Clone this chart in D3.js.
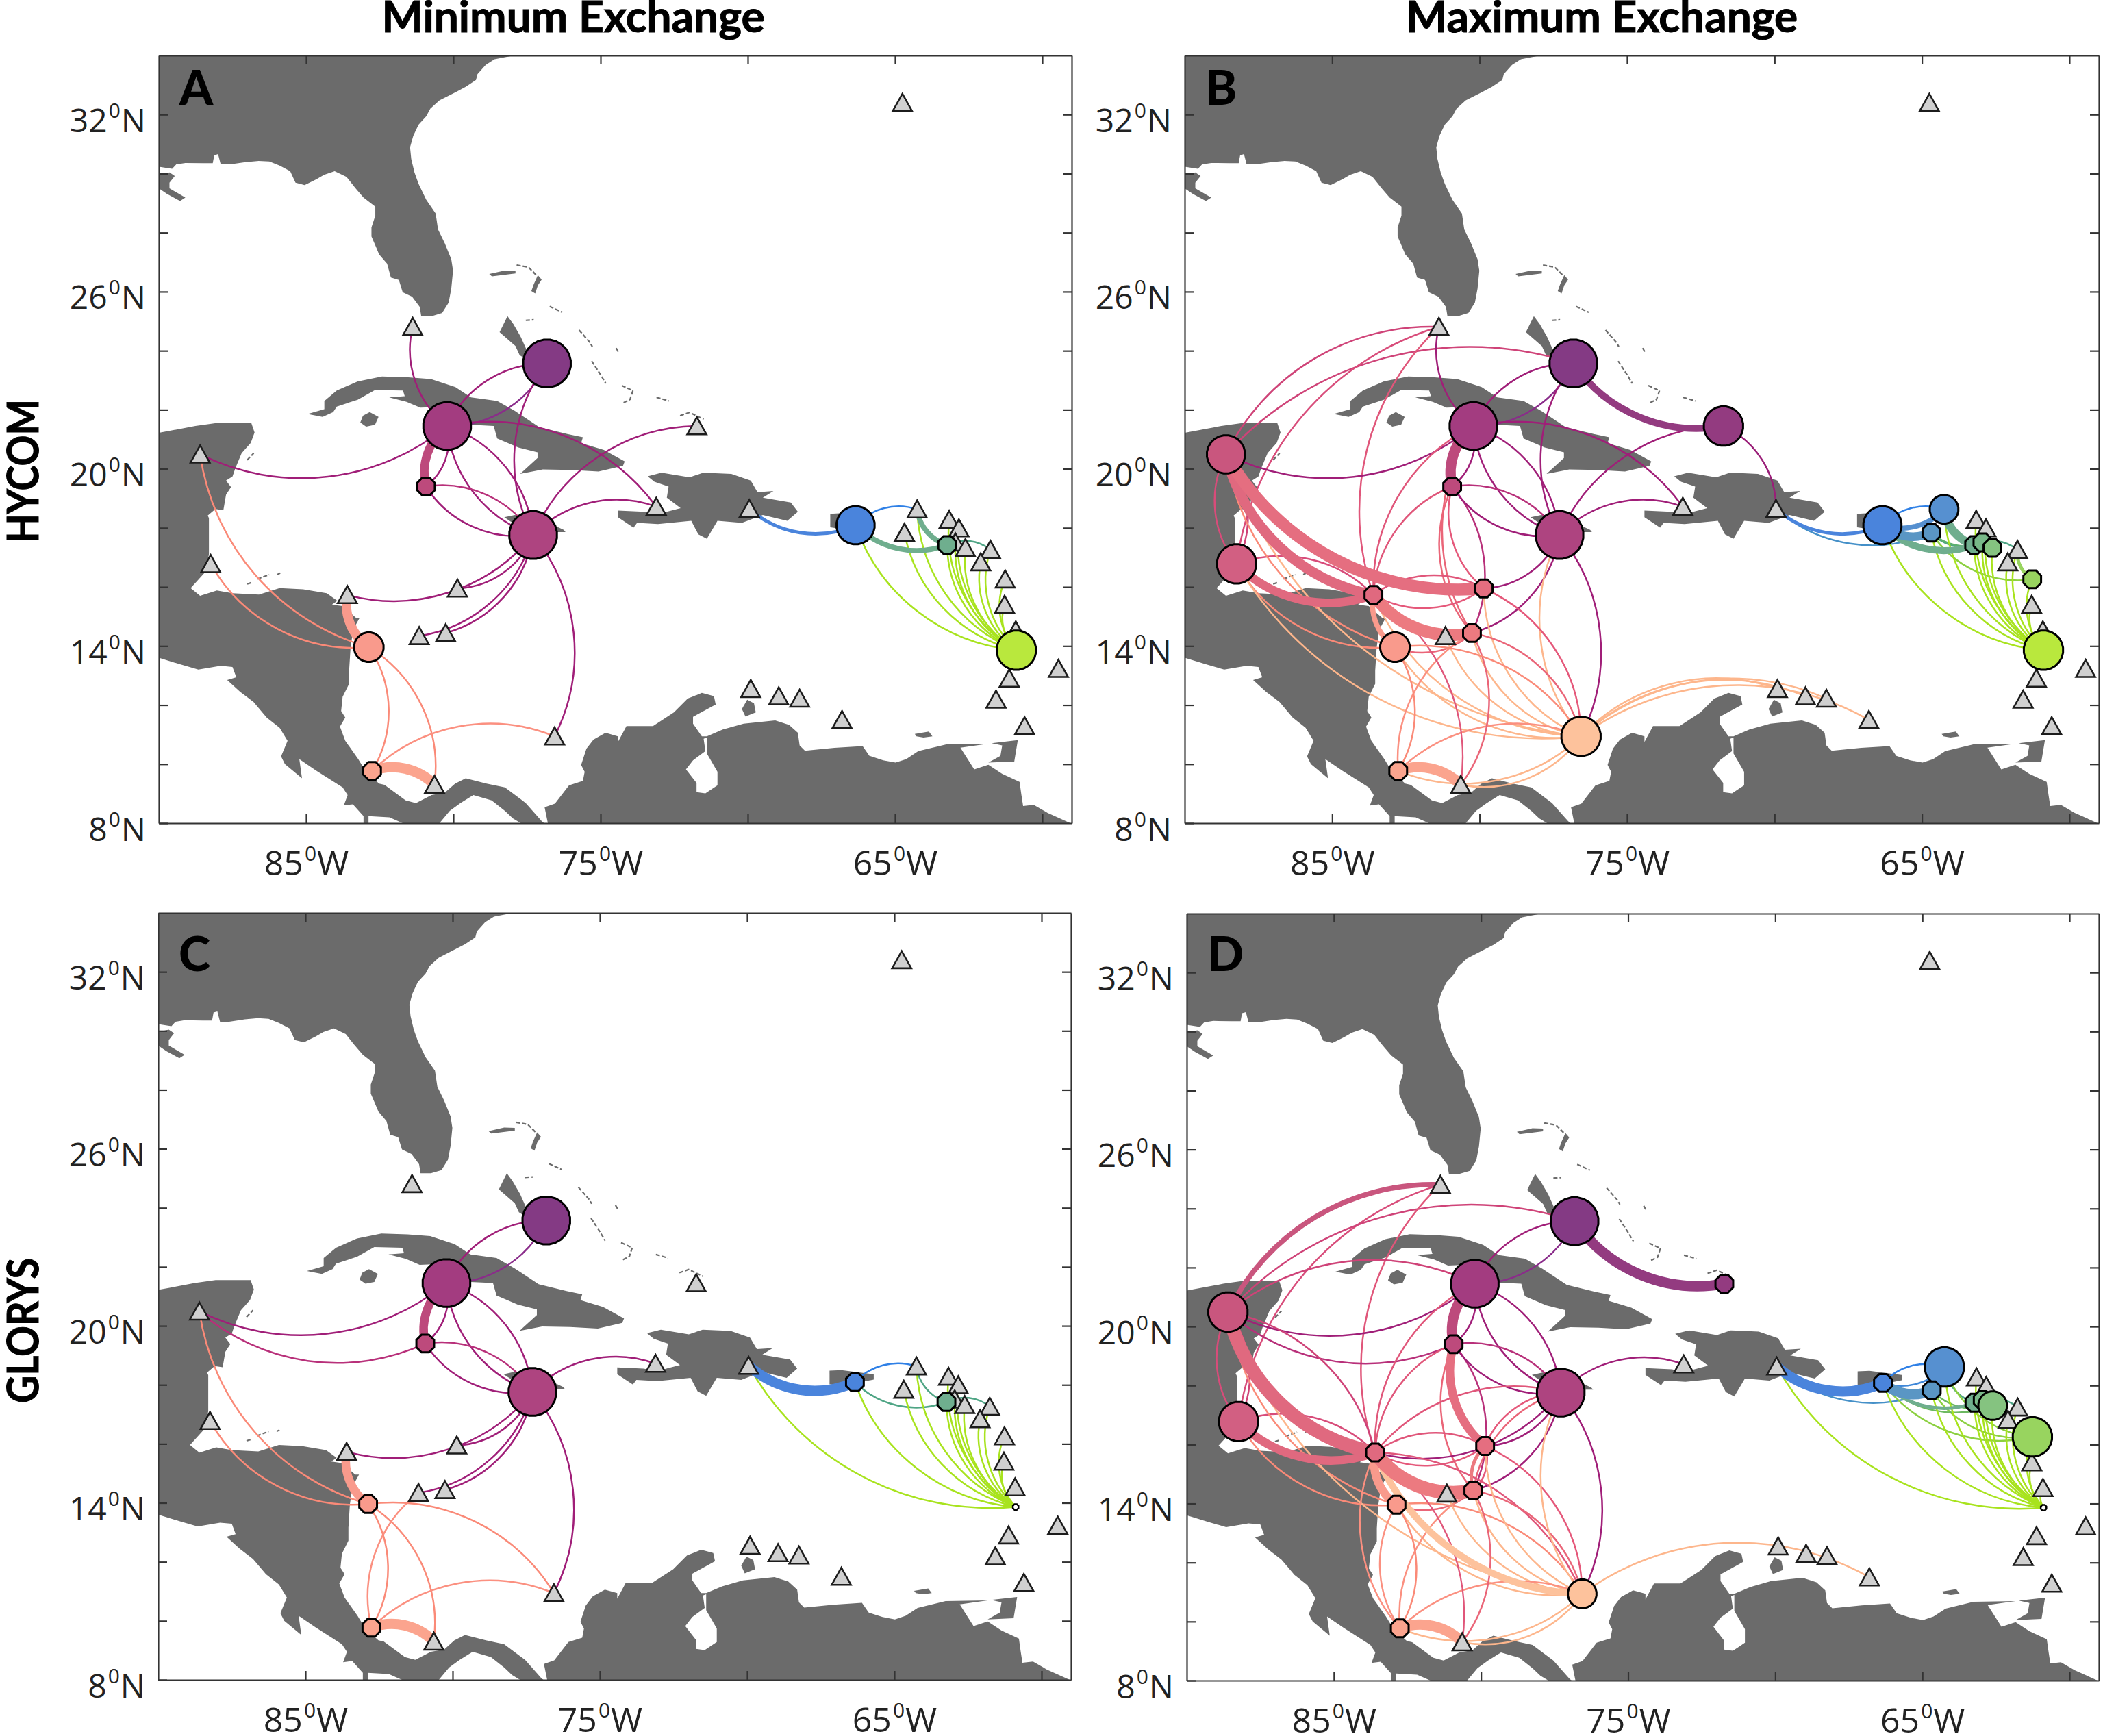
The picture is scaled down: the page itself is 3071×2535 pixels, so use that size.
<!DOCTYPE html>
<html>
<head>
<meta charset="utf-8">
<script src="https://cdn.jsdelivr.net/npm/d3@7"></script>
<style>
  html, body { margin: 0; background: #fff; }
  svg { display: block; }
</style>
</head>
<body>
<svg id="chart" width="3071" height="2535"></svg>
<script>
/* Land outlines, [lon, lat] */
const northAmerica = [[-90,34],[-77.94,34],[-78.6,33.87],[-78.9,33.68],[-79.18,33.37],[-79.23,33.17],[-79.58,32.94],[-79.94,32.75],[-80.47,32.48],[-80.78,32.2],[-80.92,31.94],[-81.18,31.66],[-81.36,31.28],[-81.47,30.89],[-81.43,30.5],[-81.32,30.04],[-81.18,29.65],[-80.92,29.11],[-80.6,28.65],[-80.52,28.11],[-80.29,27.64],[-80.07,27.1],[-80.01,26.71],[-80.07,26.1],[-80.16,25.63],[-80.38,25.28],[-80.74,25.17],[-81.09,25.17],[-81.14,25.48],[-81.4,25.83],[-81.72,25.98],[-81.85,26.4],[-82.12,26.48],[-82.25,26.95],[-82.52,27.26],[-82.65,27.57],[-82.78,27.87],[-82.78,28.18],[-82.65,28.57],[-82.65,28.88],[-83.05,29.19],[-83.32,29.5],[-83.63,29.89],[-84.03,30.08],[-84.39,29.96],[-84.65,29.81],[-85.05,29.61],[-85.36,29.69],[-85.54,30.08],[-85.9,30.27],[-86.25,30.41],[-86.61,30.43],[-87.06,30.39],[-87.59,30.31],[-87.9,30.31],[-87.99,30.66],[-88.12,30.62],[-88.17,30.35],[-88.48,30.35],[-89.1,30.36],[-89.41,30.31],[-89.55,30.16],[-90,30.23]];
const missDelta = [[-90,29.96],[-89.64,30.04],[-89.46,29.92],[-89.64,29.69],[-89.64,29.5],[-89.1,29.19],[-89.28,29.07],[-89.72,29.31],[-90,29.5]];
const centralAmerica = [[-90,21.22],[-88.76,21.45],[-88.05,21.55],[-86.86,21.55],[-86.75,21.23],[-86.88,20.88],[-87.19,20.53],[-87.41,20],[-87.5,19.74],[-87.72,19.6],[-87.55,19.38],[-87.72,19.12],[-87.81,18.6],[-88.08,18.64],[-88.34,18.42],[-88.3,18.33],[-88.3,17.72],[-88.3,17.1],[-88.44,16.49],[-88.92,15.96],[-88.6,15.7],[-88.03,15.88],[-87.5,15.79],[-86.6,15.74],[-85.9,15.96],[-85.1,15.92],[-84.3,15.79],[-83.94,15.53],[-84.12,15.4],[-83.76,15.35],[-83.31,14.96],[-83.18,14.96],[-83.4,14.56],[-83.49,13.95],[-83.54,13.16],[-83.54,12.72],[-83.76,12.28],[-83.81,11.8],[-83.67,11.58],[-83.85,11.27],[-83.67,10.79],[-83.23,10.17],[-82.96,9.73],[-82.52,9.34],[-82.34,9.3],[-81.62,8.77],[-81.27,8.68],[-80.74,8.95],[-80.29,9.03],[-79.94,9.34],[-79.58,9.52],[-78.87,9.34],[-78.25,9.21],[-77.54,8.68],[-77,8.07],[-76.92,8],[-77.71,8],[-77.98,8.16],[-78.25,8.42],[-78.7,8.77],[-79.32,8.95],[-79.76,8.68],[-80.12,8.42],[-80.47,8],[-81.72,8],[-82.17,8.2],[-82.88,8.24],[-82.88,8],[-83.05,8],[-83.05,8.24],[-83.41,8.64],[-83.72,8.6],[-83.59,8.95],[-83.76,9.21],[-84.66,9.78],[-85.23,10.17],[-85.14,9.52],[-85.72,10],[-85.85,10.26],[-85.63,10.79],[-85.9,11.23],[-86.34,11.58],[-86.78,12.1],[-87.24,12.45],[-87.68,12.85],[-87.37,12.94],[-87.5,13.29],[-87.9,13.33],[-88.66,13.2],[-89.28,13.38],[-90,13.6]];
const southAmerica = [[-76.79,8],[-76.9,8.54],[-76.55,8.66],[-76.07,9.28],[-75.6,9.43],[-75.54,9.74],[-75.66,9.97],[-75.48,10.52],[-75.24,10.83],[-74.83,11.06],[-74.41,10.94],[-74.41,10.75],[-74.12,11.29],[-73.22,11.29],[-72.51,11.75],[-72.04,12.22],[-71.56,12.41],[-71.15,12.3],[-71.09,12.02],[-71.86,11.6],[-71.86,11.37],[-71.56,10.94],[-71.39,10.94],[-70.85,11.17],[-70.14,11.37],[-69.07,11.48],[-68.6,11.33],[-68.3,11.06],[-68.24,10.63],[-68.06,10.45],[-67.06,10.55],[-66.1,10.61],[-65.87,10.28],[-65.4,10.13],[-64.98,10.05],[-64.62,10.17],[-64.21,10.44],[-63.26,10.67],[-61.83,10.69],[-62.78,10.56],[-62.31,9.82],[-61.83,9.98],[-61.36,9.67],[-60.77,9.4],[-60.71,8.97],[-60.65,8.58],[-60.29,8.62],[-59.82,8.35],[-59,7.98]];
const lakeMaracaibo = [[-71.5,10.86],[-71.44,10.44],[-71.86,10.13],[-72.1,9.82],[-71.74,9.36],[-71.74,9.05],[-71.44,9.01],[-71.03,9.28],[-71.03,9.74],[-71.39,10.36],[-71.39,10.9]];
const cuba = [[-84.95,21.86],[-84.38,22.02],[-84.38,22.3],[-83.96,22.65],[-83.25,22.96],[-82.42,23.13],[-81.53,23.1],[-80.76,23.04],[-79.93,22.77],[-79.4,22.42],[-78.51,22.3],[-77.91,21.96],[-77.08,21.41],[-76.13,21.18],[-75.6,21.07],[-75.66,20.87],[-74.89,20.64],[-74.18,20.25],[-74.24,20.1],[-75.07,19.91],[-76.01,19.96],[-76.96,19.98],[-77.73,19.83],[-77.14,20.37],[-77.14,20.56],[-77.79,20.72],[-78.51,21.03],[-78.63,21.45],[-79.4,21.49],[-80.29,22.1],[-81.12,22.07],[-81.59,22.27],[-82.18,22.42],[-81.65,22.46],[-81.71,22.65],[-82.66,22.67],[-83.25,22.34],[-83.96,22.11],[-84.08,21.92],[-84.44,21.76]];
const isleOfYouth = [[-83.07,21.8],[-82.84,21.92],[-82.54,21.76],[-82.66,21.49],[-82.96,21.43],[-83.16,21.57]];
const jamaica = [[-78.27,18.36],[-77.91,18.44],[-77.08,18.32],[-76.25,17.93],[-76.19,17.86],[-76.61,17.86],[-78.03,18.2]];
const hispaniola = [[-73.4,19.75],[-72.93,19.87],[-71.98,19.71],[-71.51,19.87],[-70.56,19.83],[-69.9,19.6],[-69.67,19.21],[-69.13,19.25],[-69.49,19.02],[-68.54,18.86],[-68.3,18.55],[-68.66,18.24],[-69.49,18.44],[-70.2,18.17],[-71.03,18.24],[-71.39,17.63],[-71.68,17.78],[-71.92,18.24],[-73.05,18.13],[-73.76,18.17],[-73.88,18.01],[-74.41,18.36],[-74.41,18.59],[-73.52,18.55],[-73.05,18.47],[-72.28,18.67],[-72.75,19.02],[-72.69,19.4],[-73.17,19.56]];
const puertoRico = [[-67.2,18.48],[-66.8,18.5],[-65.7,18.36],[-65.7,18.18],[-66.8,17.96],[-67.2,18.02]];
const grandBahama = [[-78.78,26.6],[-78.25,26.72],[-77.89,26.71],[-77.89,26.62],[-78.69,26.52]];
const abaco = [[-77.13,26.56],[-77,26.41],[-77.13,26.21],[-77.22,25.94],[-77.35,26.02],[-77.27,26.25]];
const andros = [[-78.16,25.17],[-77.96,24.9],[-77.71,24.47],[-77.5,24],[-77.55,23.72],[-77.75,23.85],[-77.89,24.16],[-78.43,24.63]];
const trinidad = [[-61.72,10.71],[-60.83,10.81],[-60.95,10.09],[-61.83,10.05],[-61.42,10.28],[-61.36,10.63]];
const paraguana = [[-70.2,11.87],[-70.02,12.18],[-69.79,12.06],[-69.73,11.75],[-70.08,11.61]];
const margarita = [[-64.33,11.02],[-63.85,11.1],[-63.73,10.94],[-64.03,10.9],[-64.27,10.94]];
const landPolygons = [northAmerica, missDelta, centralAmerica, southAmerica, cuba, isleOfYouth, jamaica, hispaniola, puertoRico, grandBahama, abaco, andros, trinidad, paraguana, margarita];

/* small cays, drawn as thin broken lines */
const cays = [
  [[-75.73,24.7],[-75.36,24.28],[-75.28,24.14]],
  [[-75.3,23.65],[-75,23.19],[-74.82,22.89]],
  [[-74.47,24.09],[-74.4,23.97]],
  [[-74.28,22.82],[-73.9,22.65],[-74,22.35],[-74.24,22.23]],
  [[-73.1,22.42],[-72.68,22.3]],
  [[-72.3,21.8],[-71.98,21.91],[-71.5,21.68]],
  [[-77.85,26.9],[-77.45,26.83],[-77.18,26.56]],
  [[-76.73,25.5],[-76.3,25.3]],
  [[-77.54,25.03],[-77.27,25.05]],
  [[-86.65,16.27],[-86.25,16.42]],
  [[-87,16.1],[-86.85,16.15]],
  [[-85.98,16.42],[-85.88,16.47]],
  [[-87,20.3],[-86.78,20.53]]
];

/* Release sites */
const siteIds = ["BER","EXU","TOR","CUB","CAY","JAM","YUC","BEL","TUR","HAI","DOM","PUR","V1","V2","G1","A1","A2","G2","G3","A3","A4","G4","A5","A6","LIM","BAR","A7","A8","TOB","K1","K2","K3","K4","PEA","PAN","SAL2","SAL1","HON","ROS","SER","PED"];
const siteLon = [-64.75,-76.82,-81.38,-80.21,-80.93,-77.29,-88.6,-88.24,-71.73,-73.11,-69.95,-66.34,-64.25,-64.68,-63.23,-63.16,-62.83,-62.95,-62.61,-61.76,-62.09,-61.26,-61.28,-60.9,-60.88,-59.45,-61.12,-61.57,-60.6,-66.8,-68.24,-68.95,-69.9,-76.56,-80.64,-82.76,-82.87,-83.6,-79.86,-81.16,-80.26];
const siteLat = [32.4,23.57,24.81,21.45,19.4,17.76,20.49,16.78,21.45,18.72,18.65,18.09,18.63,17.84,17.42,18.28,17.99,17.51,17.32,17.26,16.84,16.26,15.4,14.53,13.86,13.23,12.9,12.19,11.29,11.5,12.22,12.3,12.55,10.94,9.3,9.77,13.96,15.73,15.95,14.34,14.44];

/* Node strength per panel; a site that is not listed is drawn as a triangle */
const strengthA = {EXU:6.25,CUB:6.25,CAY:1,JAM:6.25,PUR:4,G1:1,LIM:4.25,SAL1:2.4,SAL2:1};
const strengthB = {EXU:6.25,TUR:4.25,CUB:6.25,CAY:1,JAM:6.25,YUC:4,BEL:4.25,HON:1,ROS:1,PED:1,SAL1:2.4,SAL2:1,PEA:4.25,PUR:4,V1:2.25,V2:1,G1:1,G2:1,G3:1,G4:1,LIM:4.25};
const strengthC = {EXU:6.25,CUB:6.25,CAY:1,JAM:6.25,PUR:1,G1:1,LIM:0.1,SAL1:1,SAL2:1};
const strengthD = {EXU:6.25,TUR:1,CUB:6.25,CAY:1,JAM:6.25,YUC:4.25,BEL:4.25,HON:1,ROS:1,PED:1,SAL1:1,SAL2:1,PEA:2.25,PUR:1,V1:4.25,V2:1,G1:1,G2:1,G3:2.25,G4:4.25,LIM:0.1};

/* Connections: source, target, strength. Arc always bulges to the left of source -> target */
const edgesA = [
  ["CUB","TOR",1],["EXU","CUB",1],["CUB","EXU",1],["CUB","YUC",1],["CAY","CUB",5],["CUB","CAY",1],["CUB","JAM",1],["JAM","CUB",1],["CAY","JAM",1],["JAM","CAY",1],["CUB","HAI",1],["JAM","TUR",1],["JAM","HAI",1],["JAM","EXU",1],["JAM","HON",1],["JAM","ROS",1],["JAM","PED",1],["JAM","SER",1],["JAM","PEA",1],
  ["SAL1","YUC",1],["SAL1","BEL",1],["SAL1","HON",5.5],["SAL1","PAN",1],["SAL1","SAL2",1],["SAL2","PEA",1],["SAL2","PAN",6],
  ["PUR","DOM",2],["PUR","V1",1],["G1","PUR",3],["G1","V1",3],["G1","A3",1],
  ["LIM","PUR",1],["LIM","V2",1],["LIM","V1",1],["LIM","A1",1],["LIM","A2",1],["LIM","G2",1],["LIM","G1",1],["LIM","G3",1],["LIM","A4",1],["LIM","A3",1],["LIM","G4",1],["LIM","A5",1]
];
const edgesB = [
  ["EXU","CUB",1],["CUB","EXU",1],["TUR","EXU",4],["YUC","EXU",1],["YUC","TOR",1],["BEL","TOR",1],["HON","TOR",1],["CUB","TOR",1],["CUB","YUC",1],["CAY","CUB",6],["CUB","CAY",1],["HON","CUB",1],["PED","CUB",1],["HON","CAY",1],["ROS","CAY",1],["PED","CAY",1],["CAY","PED",1],
  ["CUB","JAM",1],["JAM","CUB",1],["CAY","JAM",1],["JAM","CAY",1],["CUB","HAI",1],["JAM","HAI",1],["JAM","TUR",1],["JAM","EXU",1],["TUR","DOM",1],["JAM","ROS",1],["JAM","PED",1],["JAM","PEA",1],["PEA","JAM",1],
  ["ROS","YUC",7],["HON","YUC",6],["PED","HON",7],["HON","BEL",5],["BEL","HON",1],["YUC","BEL",1],["BEL","YUC",1],["SAL1","YUC",1],["SAL1","BEL",1],["SAL1","HON",3],["PED","SAL1",1],["ROS","HON",1],["HON","ROS",1],
  ["PEA","YUC",1],["PEA","BEL",1],["PEA","SAL1",1],["PEA","HON",1],["PEA","SER",1],["PEA","PED",1],["PEA","ROS",1],["PEA","K4",1],["PEA","K3",1],["PEA","K2",1],["PEA","K1",1],["PEA","PAN",1],["PEA","SAL2",1],
  ["SAL2","PEA",1],["SAL2","PAN",6],["SAL2","PED",1],["PED","PAN",1],["HON","PAN",1],["SAL1","SAL2",1],["ROS","PEA",1],["PED","PEA",1],["SAL1","PEA",1],
  ["PUR","DOM",2],["V2","DOM",1],["PUR","V1",1],["V1","PUR",3],["V2","PUR",5],["G1","PUR",4],["G1","V1",5],["G1","V2",1],["G1","A3",1],["G4","A3",2],["G4","V2",1],["G2","V2",1],
  ["LIM","PUR",1],["LIM","V2",1],["LIM","V1",1],["LIM","A1",1],["LIM","A2",1],["LIM","G1",1],["LIM","G2",1],["LIM","G3",1],["LIM","A4",1],["LIM","A3",1],["LIM","G4",1],["LIM","A5",1],["LIM","A6",1]
];
const edgesC = [
  ["EXU","CUB",1],["CUB","EXU",1],["CUB","YUC",1],["CAY","YUC",1],["CAY","CUB",5],["CUB","CAY",1],["CUB","JAM",1],["JAM","CUB",1],["CAY","JAM",1],["JAM","CAY",1],["JAM","HAI",1],["JAM","HON",1],["JAM","ROS",1],["JAM","PED",1],["JAM","SER",1],["JAM","PEA",1],
  ["SAL1","YUC",1],["SAL1","BEL",1],["SAL1","HON",5],["SAL1","PAN",1],["SAL1","SAL2",1],["SAL2","SER",1],["SAL2","PEA",1],["SAL1","PEA",1],["SAL2","PAN",6],
  ["PUR","DOM",6],["PUR","V1",1],["G1","PUR",1],["G1","V1",1],["G1","A3",1],
  ["LIM","DOM",1],["LIM","PUR",1],["LIM","V2",1],["LIM","V1",1],["LIM","A1",1],["LIM","A2",1],["LIM","G2",1],["LIM","G1",1],["LIM","G3",1],["LIM","A4",1],["LIM","A3",1],["LIM","G4",1],["LIM","A5",1]
];
const edgesD = [
  ["YUC","TOR",3],["BEL","TOR",1],["YUC","EXU",1],["HON","TOR",1],["YUC","CUB",1],["CUB","YUC",1],["CAY","YUC",1],["EXU","CUB",1],["CUB","EXU",1],["TUR","EXU",6],
  ["CAY","CUB",6],["CUB","CAY",1],["HON","CUB",1],["HON","CAY",1],["ROS","CAY",5],["PED","CAY",1],["CAY","PED",1],["CUB","JAM",1],["JAM","CUB",1],["CAY","JAM",1],["JAM","CAY",1],["JAM","HAI",1],["JAM","HON",1],["JAM","ROS",1],["JAM","PED",1],["JAM","PEA",1],["HON","JAM",1],["ROS","JAM",1],["PED","JAM",1],
  ["YUC","BEL",1],["BEL","YUC",1],["HON","YUC",8],["HON","BEL",5],["BEL","HON",1],["PED","HON",8],["ROS","HON",1],["HON","ROS",1],["YUC","HON",1],["SAL1","YUC",1],["SAL1","BEL",1],["SAL1","HON",5],["PED","SAL1",1],["PED","ROS",2],["ROS","PED",1],["HON","PEA",1],["ROS","PEA",1],["PED","PEA",1],["SAL1","PEA",1],
  ["PEA","YUC",1],["PEA","SAL1",1],["PEA","HON",4],["PEA","SER",1],["PEA","PED",1],["PEA","ROS",1],["PEA","JAM",1],["PEA","K1",1],["PEA","PAN",1],["PEA","SAL2",1],["SAL2","PEA",1],["SAL2","PAN",6],["SAL2","HON",1],["SAL1","SAL2",1],["SAL2","SAL1",1],["SAL2","PED",1],["PED","PAN",1],["HON","PAN",1],
  ["PUR","DOM",6],["V2","DOM",1],["V1","PUR",1],["PUR","V1",1],["V2","PUR",6],["G1","V1",1],["G1","A3",1],["G3","V2",1],["G4","V2",1],["G4","V1",1],["G4","PUR",1],["G3","PUR",1],["G1","PUR",2],
  ["LIM","DOM",1],["LIM","PUR",1],["LIM","V2",1],["LIM","V1",1],["LIM","A1",1],["LIM","A2",1],["LIM","G1",1],["LIM","G2",1],["LIM","G3",1],["LIM","A4",1],["LIM","A3",1],["LIM","G4",1],["LIM","A5",1],["LIM","A6",1]
];

const colouredSites = ["EXU","TUR","CUB","JAM","CAY","YUC","BEL","HON","ROS","PED","SAL1","SAL2","PEA","PUR","V1","V2","G1","G2","G3","G4","LIM"];
const nodeColours = ["#843a84","#933b80","#a33c80","#ae4480","#bd4a7c","#c9567e","#d25f82","#e0697f","#e56e80","#ec7a80","#f99a8c","#fba48e","#fdc29c","#4a84dc","#5690d0","#5a96c4","#6fae8e","#78b888","#85c380","#98d45f","#b9e83d"];
const lineColours = ["#8a2c8a","#9a1e78","#a01e78","#a01e78","#b8307a","#cf4378","#d84c7a","#e0567a","#e5587a","#ea6578","#fa8a78","#fb9080","#fdb68c","#2f80e6","#3f87d8","#4590c8","#4fa585","#5cb06e","#6cb860","#8cd040","#a8e31e"];

const latTicks = [32, 26, 20, 14, 8];
const lonTicks = [-85, -75, -65];
const columnTitles = ["Minimum Exchange", "Maximum Exchange"];
const rowTitles = ["HYCOM", "GLORYS"];

const svg = d3.select("#chart");
const fontSans = "'Open Sans', sans-serif";
const fontBold = "Lato, sans-serif";
const landColour = "#6b6b6b";

const nodeFill = d3.scaleOrdinal(colouredSites, nodeColours);
const lineFill = d3.scaleOrdinal(colouredSites, lineColours);
const radius = d3.scaleSqrt().domain([0, 1]).range([0, 14]);
const edgeWidth = d3.scaleLinear().domain([0, 1]).range([0, 2.5]);

const sites = siteIds.map((id, i) => ({id, lon: siteLon[i], lat: siteLat[i]}));
const siteById = new Map(sites.map(s => [s.id, s]));

const panels = [
  {letter: "A", x0: 232, x1: 1565, y0: 81, y1: 1202, letterY: 153, strength: strengthA, edges: edgesA},
  {letter: "B", x0: 1730, x1: 3065, y0: 81, y1: 1202, letterY: 153, strength: strengthB, edges: edgesB},
  {letter: "C", x0: 231, x1: 1564, y0: 1333, y1: 2453, letterY: 1418, strength: strengthC, edges: edgesC},
  {letter: "D", x0: 1733, x1: 3065, y0: 1334, y1: 2454, letterY: 1418, strength: strengthD, edges: edgesD}
];

function labelWithDegree(sel, hemisphere) {
    sel.each(function(d) {
        const value = Math.abs(d);
        const t = d3.select(this).text(null);
        t.append("tspan").text(value);
        t.append("tspan").attr("font-size", 30).attr("baseline-shift", 21).attr("dx", 2).text("0");
        t.append("tspan").attr("dx", 1).text(hemisphere);
    });
}

function drawPanel(p, idx) {
    const x = d3.scaleLinear().domain([-90, -59]).range([p.x0, p.x1]);
    const y = d3.scaleLinear().domain([8, 34]).range([p.y1, p.y0]);
    const clipId = "clip" + idx;

    svg.append("clipPath").attr("id", clipId)
        .append("rect")
        .attr("x", p.x0).attr("y", p.y0)
        .attr("width", p.x1 - p.x0).attr("height", p.y1 - p.y0);

    const g = svg.append("g").attr("clip-path", `url(#${clipId})`);
    const line = d3.line().x(d => x(d[0])).y(d => y(d[1]));

    g.selectAll(".land").data(landPolygons).enter().append("path")
        .attr("class", "land")
        .attr("d", d => line(d) + "Z")
        .attr("fill", landColour);
    g.append("path").attr("d", line(lakeMaracaibo) + "Z").attr("fill", "#fff");
    g.selectAll(".cay").data(cays).enter().append("path")
        .attr("class", "cay")
        .attr("d", line)
        .attr("fill", "none")
        .attr("stroke", landColour)
        .attr("stroke-width", 2.2)
        .attr("stroke-dasharray", "6 3");

    /* Arcs: constant ratio of radius to chord */
    function arcPath(e) {
        const a = siteById.get(e[0]), b = siteById.get(e[1]);
        const x1 = x(a.lon), y1 = y(a.lat), x2 = x(b.lon), y2 = y(b.lat);
        const r = Math.hypot(x2 - x1, y2 - y1) * 0.92;
        return `M${x1},${y1}A${r},${r} 0 0 1 ${x2},${y2}`;
    }

    const ordered = p.edges.slice().sort((a, b) => a[2] - b[2]);
    g.selectAll(".edge").data(ordered).enter().append("path")
        .attr("class", "edge")
        .attr("d", arcPath)
        .attr("fill", "none")
        .attr("stroke", d => d[2] > 1 ? nodeFill(d[0]) : lineFill(d[0]))
        .attr("stroke-width", d => edgeWidth(d[2]));

    /* Triangles for the sites with no strength */
    const triangles = sites.filter(s => !p.strength[s.id]);
    g.selectAll(".site").data(triangles).enter().append("path")
        .attr("class", "site")
        .attr("transform", d => `translate(${x(d.lon)},${y(d.lat)})`)
        .attr("d", "M0,-13L14,12L-14,12Z")
        .attr("fill", "#d0d0d0")
        .attr("stroke", "#1c1c1c")
        .attr("stroke-width", 2.6);

    /* Nodes: MATLAB-like octagons when small */
    const nodes = sites.filter(s => p.strength[s.id]);
    const poly = d3.lineRadial().curve(d3.curveLinearClosed);
    g.selectAll(".node").data(nodes).enter().append("path")
        .attr("class", "node")
        .attr("transform", d => `translate(${x(d.lon)},${y(d.lat)})`)
        .attr("d", d => {
            const r = radius(p.strength[d.id]);
            const n = r < 18 ? 8 : 24;
            return poly(d3.range(n).map(i => [(i + 0.5) * 2 * Math.PI / n, r]));
        })
        .attr("fill", d => radius(p.strength[d.id]) < 6 ? "#fff" : nodeFill(d.id))
        .attr("stroke", "#000")
        .attr("stroke-width", d => radius(p.strength[d.id]) < 6 ? 2.5 : 3);

    /* Frame and ticks */
    const tickLen = 13;
    const lonAll = d3.range(-85, -59, 5);
    const latAll = d3.range(10, 34, 2);
    const axes = svg.append("g");

    const bottom = axes.append("g")
        .attr("transform", `translate(0,${p.y1})`)
        .call(d3.axisBottom(x).tickValues(lonAll)
            .tickSizeInner(-tickLen).tickSizeOuter(0)
            .tickFormat(d => lonTicks.includes(d) ? d : ""));
    bottom.selectAll("text")
        .attr("font-size", 50).attr("font-family", fontSans).attr("fill", "#222")
        .attr("y", 76).attr("dy", null)
        .filter(d => lonTicks.includes(d)).call(labelWithDegree, "W");

    const left = axes.append("g")
        .attr("transform", `translate(${p.x0},0)`)
        .call(d3.axisLeft(y).tickValues(latAll.concat([8]))
            .tickSizeInner(-tickLen).tickSizeOuter(0)
            .tickFormat(d => latTicks.includes(d) ? d : ""));
    left.selectAll("text")
        .attr("font-size", 48).attr("font-family", fontSans).attr("fill", "#222")
        .attr("x", -19).attr("y", 25).attr("dy", null)
        .filter(d => latTicks.includes(d)).call(labelWithDegree, "N");

    axes.append("g")
        .attr("transform", `translate(0,${p.y0})`)
        .call(d3.axisTop(x).tickValues(lonAll).tickSizeInner(-tickLen).tickSizeOuter(0).tickFormat(""));
    axes.append("g")
        .attr("transform", `translate(${p.x1},0)`)
        .call(d3.axisRight(y).tickValues(latAll).tickSizeInner(-tickLen).tickSizeOuter(0).tickFormat(""));

    axes.selectAll("path.domain").attr("stroke", "#333").attr("stroke-width", 2.2);
    axes.selectAll(".tick line").attr("stroke", "#333").attr("stroke-width", 2.2);

    svg.append("text")
        .attr("x", p.x0 + 30).attr("y", p.letterY)
        .attr("font-family", fontBold).attr("font-weight", 900)
        .attr("font-size", 70).attr("fill", "#000")
        .text(p.letter);
}

panels.forEach(drawPanel);

svg.selectAll(".coltitle").data(columnTitles).enter().append("text")
    .attr("class", "coltitle")
    .attr("x", (d, i) => i ? 2339 : 837)
    .attr("y", 47)
    .attr("text-anchor", "middle")
    .attr("font-family", fontBold).attr("font-weight", 700)
    .attr("font-size", 64).attr("fill", "#000")
    .attr("stroke", "#000").attr("stroke-width", 1)
    .text(d => d);

svg.selectAll(".rowtitle").data(rowTitles).enter().append("text")
    .attr("class", "rowtitle")
    .attr("transform", (d, i) => `translate(56,${i ? 1943 : 688}) rotate(-90) scale(0.87,1)`)
    .attr("text-anchor", "middle")
    .attr("font-family", fontBold).attr("font-weight", 700)
    .attr("font-size", 64).attr("fill", "#000")
    .attr("stroke", "#000").attr("stroke-width", 1)
    .text(d => d);
</script>
</body>
</html>
